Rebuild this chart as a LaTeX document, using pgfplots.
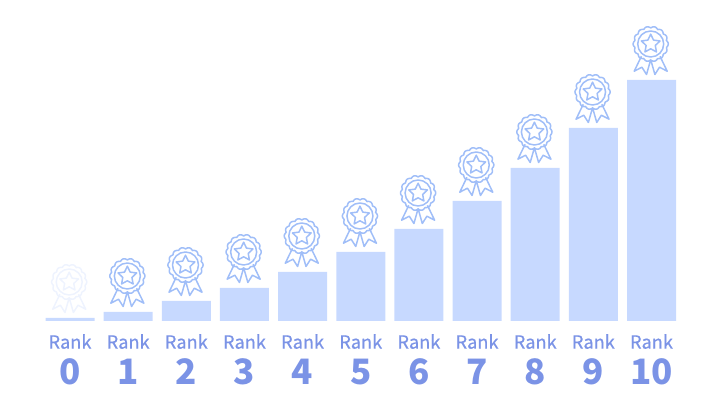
\documentclass[border=0pt]{standalone}
\usepackage{pgfplots}
\usepackage{fontspec}
\pgfplotsset{compat=1.18}
\setmainfont{Noto Sans CJK SC}
\definecolor{barblue}{HTML}{C7D9FF}
\definecolor{medalblue}{HTML}{A0BEF8}
\definecolor{medalpale}{HTML}{EEF3FE}
\definecolor{labelblue}{HTML}{7B93E6}
% medal drawn from the bar top, sizes in px (1pt = 1px here)
\newcommand{\pl}[2]{\pgfpointpolar{#1}{#2pt}}
\newcommand{\xy}[2]{\pgfpoint{#1pt}{#2pt}}
\pgfdeclareplotmark{medal}{
    \pgftransformyshift{36pt}
    \pgftransformxshift{-0.8pt}
    \pgfsetlinewidth{1.5pt}
    \pgfsetroundjoin
    % scalloped rim
    \pgfpathmoveto{\pl{0}{17.6}}
    \foreach \a in {3.2,6.4,...,358}{
        \pgfmathsetmacro\r{16+1.6*abs(cos(7*\a))}
        \pgfpathlineto{\pl{\a}{\r}}
    }
    \pgfpathclose
    \pgfpathcircle{\pgfpointorigin}{13pt}
    % star
    \pgfpathmoveto{\pl{90}{9.8}}
    \pgfpathlineto{\pl{126}{4.8}}
    \pgfpathlineto{\pl{162}{9.8}}
    \pgfpathlineto{\pl{198}{4.8}}
    \pgfpathlineto{\pl{234}{9.8}}
    \pgfpathlineto{\pl{270}{4.8}}
    \pgfpathlineto{\pl{306}{9.8}}
    \pgfpathlineto{\pl{342}{4.8}}
    \pgfpathlineto{\pl{18}{9.8}}
    \pgfpathlineto{\pl{54}{4.8}}
    \pgfpathclose
    % ribbons
    \pgfpathmoveto{\xy{-9.3}{-12.3}}
    \pgfpathlineto{\xy{-16.5}{-27.2}}
    \pgfpathlineto{\xy{-8.8}{-23.2}}
    \pgfpathlineto{\xy{-4.2}{-30.5}}
    \pgfpathlineto{\xy{0}{-15.7}}
    \pgfpathlineto{\xy{4.2}{-30.5}}
    \pgfpathlineto{\xy{8.8}{-23.2}}
    \pgfpathlineto{\xy{16.5}{-27.2}}
    \pgfpathlineto{\xy{9.3}{-12.3}}
    \pgfusepathqstroke
}
\newcommand{\rk}[1]{\addfontfeature{FakeBold=0.6}\fontsize{18.2}{26}\selectfont Rank\\[9pt]\normalfont\bfseries\fontsize{35}{42}\selectfont #1}
\begin{document}
\begin{tikzpicture}
    \useasboundingbox (0,-88pt) rectangle (721pt,321pt);
    \begin{axis}[
        at={(0,0)},anchor=south west,
        scale only axis,width=721pt,height=321pt,
        xmin=-1.2038,xmax=11.195,ymin=0,ymax=321,
        axis line style={draw=none},
        ytick=\empty,
        xtick={0,1,2,3,4,5,6,7,8,9,10},
        xticklabels={\rk{0},\rk{1},\rk{2},\rk{3},\rk{4},\rk{5},\rk{6},\rk{7},\rk{8},\rk{9},\rk{10}},
        xticklabel style={align=center,text=labelblue,yshift=-13pt,inner sep=0pt},
        major tick length=0pt,
        clip=false,
    ]
        \addplot[ybar,bar width=49pt,bar shift=0pt,fill=barblue,draw=none] coordinates {
            (0,3) (1,9) (2,20) (3,33) (4,49) (5,69) (6,92) (7,120) (8,153) (9,193) (10,241)
        };
        \addplot[only marks,mark=medal,mark options={draw=medalpale}] coordinates {
            (0,3)
        };
        \addplot[only marks,mark=medal,mark options={draw=medalblue}] coordinates {
            (1,9) (2,20) (3,33) (4,49) (5,69) (6,92) (7,120) (8,153) (9,193) (10,241)
        };
    \end{axis}
\end{tikzpicture}
\end{document}
